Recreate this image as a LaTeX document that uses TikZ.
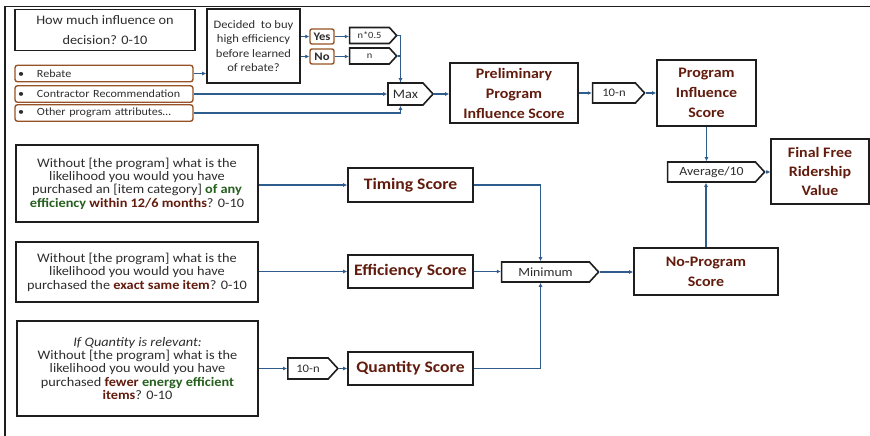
\documentclass[tikz,border=0pt]{standalone}
\usepackage{fontspec}
\setmainfont{Carlito}[FakeStretch=1.1]
\usetikzlibrary{shapes.symbols,arrows.meta}
\definecolor{dred}{RGB}{98,28,14}
\definecolor{dgreen}{RGB}{38,96,30}
\definecolor{bluec}{RGB}{46,92,140}
\definecolor{brownc}{RGB}{150,82,36}
\definecolor{boxc}{RGB}{30,30,30}
\definecolor{txtc}{RGB}{45,45,45}
\begin{document}
\begin{tikzpicture}[x=1pt,y=-1pt,
  box/.style={draw=boxc, line width=1.6pt, inner sep=0pt, align=center, fill=white, text=txtc},
  qbox/.style={box, font=\fontsize{13}{13.4}\selectfont},
  score/.style={box, text=dred, font=\fontsize{14.5}{20}\bfseries\selectfont},
  sscore/.style={score, font=\fontsize{16}{18}\bfseries\selectfont},
  pill/.style={draw=brownc, line width=1.4pt, rounded corners=2.5pt, minimum width=178pt,
    minimum height=16.5pt, text width=172pt, inner xsep=3pt, inner ysep=0pt, align=left,
    text=txtc, font=\fontsize{11}{12}\selectfont},
  yn/.style={draw=brownc, line width=1.4pt, rounded corners=2pt, minimum width=24pt,
    minimum height=15pt, inner sep=0pt, text=txtc, font=\fontsize{11.5}{12}\bfseries\selectfont},
  chev/.style={signal, signal to=east, signal pointer angle=95, draw=boxc, line width=1.6pt,
    inner sep=0pt, fill=white, text=txtc},
  conn/.style={draw=bluec, line width=1.1pt, -{Latex[length=4pt,width=4pt]}},
  line/.style={draw=bluec, line width=1.1pt}
]
\useasboundingbox (0,0) rectangle (870,436);
\draw[line width=1.6pt, boxc] (5,436) -- (5,6.5) -- (870,6.5);

% top section
\node[box, minimum width=180pt, minimum height=41pt, font=\fontsize{13}{20}\selectfont] (howmuch) at (105,30) {How much influence on\\decision? 0-10};
\node[box, minimum width=93pt, minimum height=74pt, font=\fontsize{11.4}{14.3}\selectfont] (decided) at (253.5,46) {Decided\ \ to buy\\high efficiency\\before learned\\of rebate?};
\node[pill] (rebate) at (104,73.5) {\makebox[19pt][l]{•}Rebate};
\node[pill] (contr) at (104,94) {\makebox[19pt][l]{•}Contractor Recommendation};
\node[pill] (other) at (104,113) {\makebox[19pt][l]{•}Other program attributes\dots};
\node[yn] (yes) at (322,36.5) {Yes};
\node[yn] (no) at (322,56.5) {No};
\node[chev, minimum width=47pt, minimum height=16pt, font=\fontsize{9.5}{10}\selectfont] (n05) at (369.5,35.5) {n*0.5};
\node[chev, minimum width=47pt, minimum height=16pt, font=\fontsize{9.5}{10}\selectfont] (nn) at (369.5,56) {n};
\node[chev, minimum width=45pt, minimum height=22pt, font=\fontsize{13}{14}\selectfont] (max) at (405.5,94) {Max};
\node[score, minimum width=128pt, minimum height=60pt] (prelim) at (514,93) {Preliminary\\Program\\Influence Score};
\node[chev, minimum width=52pt, minimum height=20pt, font=\fontsize{11.5}{12}\selectfont] (tenn1) at (614,93) {10-n};
\node[score, minimum width=99pt, minimum height=66pt] (pis) at (706.5,93) {Program\\Influence\\Score};
\node[chev, minimum width=97pt, minimum height=20pt, font=\fontsize{12.5}{13}\selectfont] (avg) at (711.5,172) {Average/10};
\node[score, minimum width=98pt, minimum height=65pt, font=\fontsize{14.5}{19}\bfseries\selectfont, line width=1.2pt] (final) at (820,171.5) {Final Free\\Ridership\\Value};

% lower section
\node[qbox, minimum width=242pt, minimum height=77pt] (q1) at (137,183.5) {Without [the program] what is the\\likelihood you would you have\\purchased an [item category] \textcolor{dgreen}{\textbf{of any}}\\\textcolor{dgreen}{\textbf{efficiency}} \textcolor{dred}{\textbf{within 12/6 months}}? 0-10};
\node[qbox, minimum width=242pt, minimum height=60pt] (q2) at (137,272) {Without [the program] what is the\\likelihood you would you have\\purchased the \textcolor{dred}{\textbf{exact same item}}? 0-10};
\node[qbox, minimum width=241pt, minimum height=95pt] (q3) at (137.5,368.5) {\textit{If Quantity is relevant:}\\Without [the program] what is the\\likelihood you would you have\\purchased \textbf{\textcolor{dred}{fewer} \textcolor{dgreen}{energy efficient}}\\\textbf{\textcolor{dred}{items}}? 0-10};
\node[chev, minimum width=50pt, minimum height=21pt, font=\fontsize{11.5}{12}\selectfont] (tenn2) at (308,368.5) {10-n};
\node[sscore, minimum width=125pt, minimum height=34pt] (timing) at (410.5,185) {Timing Score};
\node[sscore, minimum width=125pt, minimum height=33pt] (eff) at (410.5,271.5) {Efficiency Score};
\node[sscore, minimum width=125pt, minimum height=33pt] (qty) at (410.5,368.5) {Quantity Score};
\node[chev, minimum width=97pt, minimum height=20pt, font=\fontsize{12.5}{13}\selectfont] (minn) at (545.5,272) {Minimum};
\node[score, minimum width=144pt, minimum height=47pt] (npr) at (706,271.5) {No-Program\\Score};

% connectors top
\draw[conn] (rebate.east) -- (decided.west |- rebate.east);
\draw[conn] (decided.east |- yes.west) -- (yes.west);
\draw[conn] (decided.east |- no.west) -- (no.west);
\draw[conn] (yes.east) -- (n05.west |- yes.east);
\draw[conn] (no.east) -- (nn.west |- no.east);
\draw[conn] (n05.east) -| ([xshift=-5pt]max.north);
\draw[line] (nn.east) -| ([xshift=-5pt]max.north);
\draw[conn] (contr.east) -- (max.west |- contr.east);
\draw[conn] (other.east) -| ([xshift=-5pt]max.south);
\draw[conn] (max.east) -- (prelim.west |- max.east);
\draw[conn] (prelim.east |- tenn1.west) -- (tenn1.west);
\draw[conn] (tenn1.east) -- (pis.west |- tenn1.east);
\draw[conn] (pis.south) -- (pis.south |- avg.north);
\draw[conn] (avg.east) -- (final.west |- avg.east);
\draw[conn] (npr.north) -- (npr.north |- avg.south);

% connectors bottom
\draw[conn] (q1.east |- timing.west) -- (timing.west);
\draw[conn] (q2.east |- eff.west) -- (eff.west);
\draw[conn] (q3.east) -- (tenn2.west);
\draw[conn] (tenn2.east) -- (qty.west);
\draw[conn] (timing.east) -| ([xshift=-5pt]minn.north);
\draw[conn] (eff.east) -- (minn.west |- eff.east);
\draw[conn] (qty.east) -| ([xshift=-5pt]minn.south);
\draw[conn] (minn.east) -- (npr.west |- minn.east);
\end{tikzpicture}
\end{document}
